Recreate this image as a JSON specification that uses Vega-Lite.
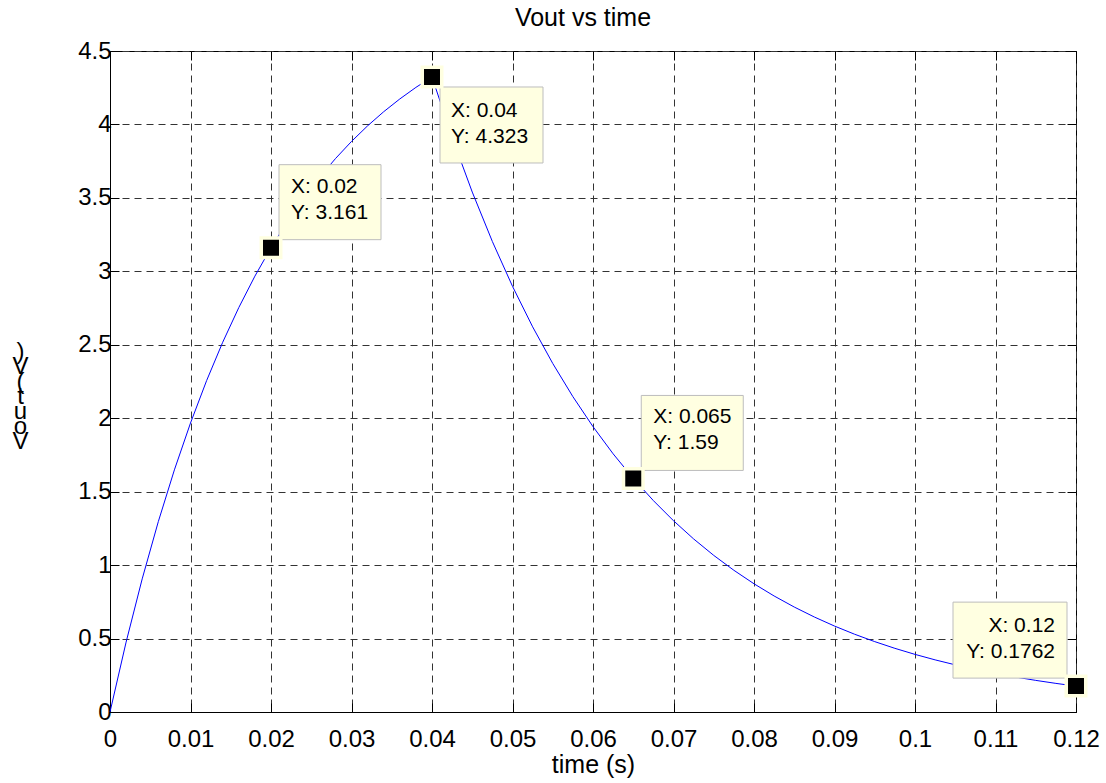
{
  "$schema": "https://vega.github.io/schema/vega-lite/v6.json",
  "width": 966,
  "height": 661,
  "autosize": {"type": "none"},
  "padding": {"left": 110, "top": 51, "right": 30, "bottom": 71},
  "background": "white",
  "title": {"text": "Vout vs time", "font": "Liberation Sans", "fontSize": 25, "fontWeight": "normal", "color": "black", "offset": 8, "anchor": "middle", "dx": -10},
  "config": {
    "view": {"stroke": "black", "strokeWidth": 1},
    "font": "Liberation Sans",
    "axis": {"labelFont": "Liberation Sans", "titleFont": "Liberation Sans", "labelColor": "black", "titleColor": "black", "domainColor": "black", "tickColor": "black", "labelFlush": false, "labelOverlap": false, "titleFontWeight": "normal"}
  },
  "datasets": {
    "curve": [
      {"t": 0, "v": 0}, {"t": 0.002, "v": 0.4758}, {"t": 0.004, "v": 0.9063}, {"t": 0.006, "v": 1.2959},
      {"t": 0.008, "v": 1.6484}, {"t": 0.01, "v": 1.9673}, {"t": 0.012, "v": 2.2559}, {"t": 0.014, "v": 2.5171},
      {"t": 0.016, "v": 2.7534}, {"t": 0.018, "v": 2.9672}, {"t": 0.02, "v": 3.1606}, {"t": 0.022, "v": 3.3356},
      {"t": 0.024, "v": 3.494}, {"t": 0.026, "v": 3.6373}, {"t": 0.028, "v": 3.767}, {"t": 0.03, "v": 3.8843},
      {"t": 0.032, "v": 3.9905}, {"t": 0.034, "v": 4.0866}, {"t": 0.036, "v": 4.1735}, {"t": 0.038, "v": 4.2522},
      {"t": 0.04, "v": 4.3233}, {"t": 0.0425, "v": 3.9119}, {"t": 0.045, "v": 3.5396}, {"t": 0.0475, "v": 3.2028},
      {"t": 0.05, "v": 2.898}, {"t": 0.0525, "v": 2.6222}, {"t": 0.055, "v": 2.3727}, {"t": 0.0575, "v": 2.1469},
      {"t": 0.06, "v": 1.9426}, {"t": 0.0625, "v": 1.7577}, {"t": 0.065, "v": 1.5905}, {"t": 0.0675, "v": 1.4391},
      {"t": 0.07, "v": 1.3022}, {"t": 0.0725, "v": 1.1782}, {"t": 0.075, "v": 1.0661}, {"t": 0.0775, "v": 0.9647},
      {"t": 0.08, "v": 0.8729}, {"t": 0.0825, "v": 0.7898}, {"t": 0.085, "v": 0.7146}, {"t": 0.0875, "v": 0.6466},
      {"t": 0.09, "v": 0.5851}, {"t": 0.0925, "v": 0.5294}, {"t": 0.095, "v": 0.479}, {"t": 0.0975, "v": 0.4334},
      {"t": 0.1, "v": 0.3922}, {"t": 0.1025, "v": 0.3549}, {"t": 0.105, "v": 0.3211}, {"t": 0.1075, "v": 0.2906},
      {"t": 0.11, "v": 0.2629}, {"t": 0.1125, "v": 0.2379}, {"t": 0.115, "v": 0.2152}, {"t": 0.1175, "v": 0.1948},
      {"t": 0.12, "v": 0.1762}
    ],
    "tips": [
      {"t": 0.02, "v": 3.161, "label": "X: 0.02\nY: 3.161"},
      {"t": 0.04, "v": 4.323, "label": "X: 0.04\nY: 4.323"},
      {"t": 0.065, "v": 1.59, "label": "X: 0.065\nY: 1.59"},
      {"t": 0.12, "v": 0.1762, "label": "X: 0.12\nY: 0.1762"}
    ]
  },
  "resolve": {"axis": {"x": "independent", "y": "independent"}},
  "layer": [
    {
      "data": {"name": "curve"},
      "mark": {"type": "line", "color": "#0000ff", "strokeWidth": 1},
      "encoding": {
        "x": {"field": "t", "type": "quantitative", "scale": {"domain": [0, 0.12], "nice": false, "zero": false},
          "axis": {"orient": "bottom", "values": [0, 0.01, 0.02, 0.03, 0.04, 0.05, 0.06, 0.07, 0.08, 0.09, 0.1, 0.11, 0.12],
            "labelExpr": "format(datum.value, '~g')", "grid": true, "gridDash": [7, 5], "gridColor": "#333333", "gridOpacity": 1,
            "tickSize": -9, "labelFontSize": 24, "labelPadding": 24, "title": "time (s)", "titleFontSize": 25, "titlePadding": 1}},
        "y": {"field": "v", "type": "quantitative", "scale": {"domain": [0, 4.5], "nice": false, "zero": false},
          "axis": {"orient": "left", "values": [0, 0.5, 1, 1.5, 2, 2.5, 3, 3.5, 4, 4.5],
            "labelExpr": "format(datum.value, '~g')", "grid": true, "gridDash": [7, 5], "gridColor": "#333333", "gridOpacity": 1,
            "tickSize": -9, "labelFontSize": 24, "labelPadding": 8,
            "title": [")", "V", "(", "t", "u", "o", "V"], "titleFontSize": 24, "titleAngle": 0, "titleAlign": "center",
            "titleBaseline": "middle", "titleLineHeight": 15, "titleX": -90, "titleY": 300}}
      }
    },
    {
      "data": {"name": "tips"},
      "transform": [{"filter": "datum.t == 0.02 || datum.t == 0.065"}],
      "mark": {"type": "point", "shape": "M0.08,-0.08L1.1,-0.08L1.1,-0.83L0.08,-0.83Z", "size": 40000, "filled": true, "fill": "#ffffe1", "stroke": "#bdbdbd", "strokeWidth": 1, "opacity": 1},
      "encoding": {
        "x": {"field": "t", "type": "quantitative", "axis": null},
        "y": {"field": "v", "type": "quantitative", "axis": null}
      }
    },
    {
      "data": {"name": "tips"},
      "transform": [{"filter": "datum.t == 0.02 || datum.t == 0.065"}],
      "mark": {"type": "text", "align": "left", "baseline": "alphabetic", "lineBreak": "\n", "lineHeight": 26, "dx": 20, "dy": -55, "fontSize": 21, "font": "Liberation Sans", "color": "black"},
      "encoding": {
        "x": {"field": "t", "type": "quantitative", "axis": null},
        "y": {"field": "v", "type": "quantitative", "axis": null},
        "text": {"field": "label"}
      }
    },
    {
      "data": {"name": "tips"},
      "transform": [{"filter": "datum.t == 0.04"}],
      "mark": {"type": "point", "shape": "M0.08,0.1L1.11,0.1L1.11,0.86L0.08,0.86Z", "size": 40000, "filled": true, "fill": "#ffffe1", "stroke": "#bdbdbd", "strokeWidth": 1, "opacity": 1},
      "encoding": {
        "x": {"field": "t", "type": "quantitative", "axis": null},
        "y": {"field": "v", "type": "quantitative", "axis": null}
      }
    },
    {
      "data": {"name": "tips"},
      "transform": [{"filter": "datum.t == 0.04"}],
      "mark": {"type": "text", "align": "left", "baseline": "alphabetic", "lineBreak": "\n", "lineHeight": 26, "dx": 19, "dy": 40, "fontSize": 21, "font": "Liberation Sans", "color": "black"},
      "encoding": {
        "x": {"field": "t", "type": "quantitative", "axis": null},
        "y": {"field": "v", "type": "quantitative", "axis": null},
        "text": {"field": "label"}
      }
    },
    {
      "data": {"name": "tips"},
      "transform": [{"filter": "datum.t == 0.12"}],
      "mark": {"type": "point", "shape": "M-1.23,-0.08L-0.09,-0.08L-0.09,-0.84L-1.23,-0.84Z", "size": 40000, "filled": true, "fill": "#ffffe1", "stroke": "#bdbdbd", "strokeWidth": 1, "opacity": 1},
      "encoding": {
        "x": {"field": "t", "type": "quantitative", "axis": null},
        "y": {"field": "v", "type": "quantitative", "axis": null}
      }
    },
    {
      "data": {"name": "tips"},
      "transform": [{"filter": "datum.t == 0.12"}],
      "mark": {"type": "text", "align": "right", "baseline": "alphabetic", "lineBreak": "\n", "lineHeight": 26, "dx": -21, "dy": -54, "fontSize": 21, "font": "Liberation Sans", "color": "black"},
      "encoding": {
        "x": {"field": "t", "type": "quantitative", "axis": null},
        "y": {"field": "v", "type": "quantitative", "axis": null},
        "text": {"field": "label"}
      }
    },
    {
      "data": {"name": "tips"},
      "mark": {"type": "square", "size": 380, "fill": "black", "stroke": "#ffffe1", "strokeWidth": 3.5, "opacity": 1},
      "encoding": {
        "x": {"field": "t", "type": "quantitative",
          "axis": {"orient": "top", "values": [0, 0.01, 0.02, 0.03, 0.04, 0.05, 0.06, 0.07, 0.08, 0.09, 0.1, 0.11, 0.12], "labels": false, "grid": false, "domain": false, "tickSize": -9, "title": null}},
        "y": {"field": "v", "type": "quantitative",
          "axis": {"orient": "right", "values": [0, 0.5, 1, 1.5, 2, 2.5, 3, 3.5, 4, 4.5], "labels": false, "grid": false, "domain": false, "tickSize": -9, "title": null}}
      }
    }
  ]
}
